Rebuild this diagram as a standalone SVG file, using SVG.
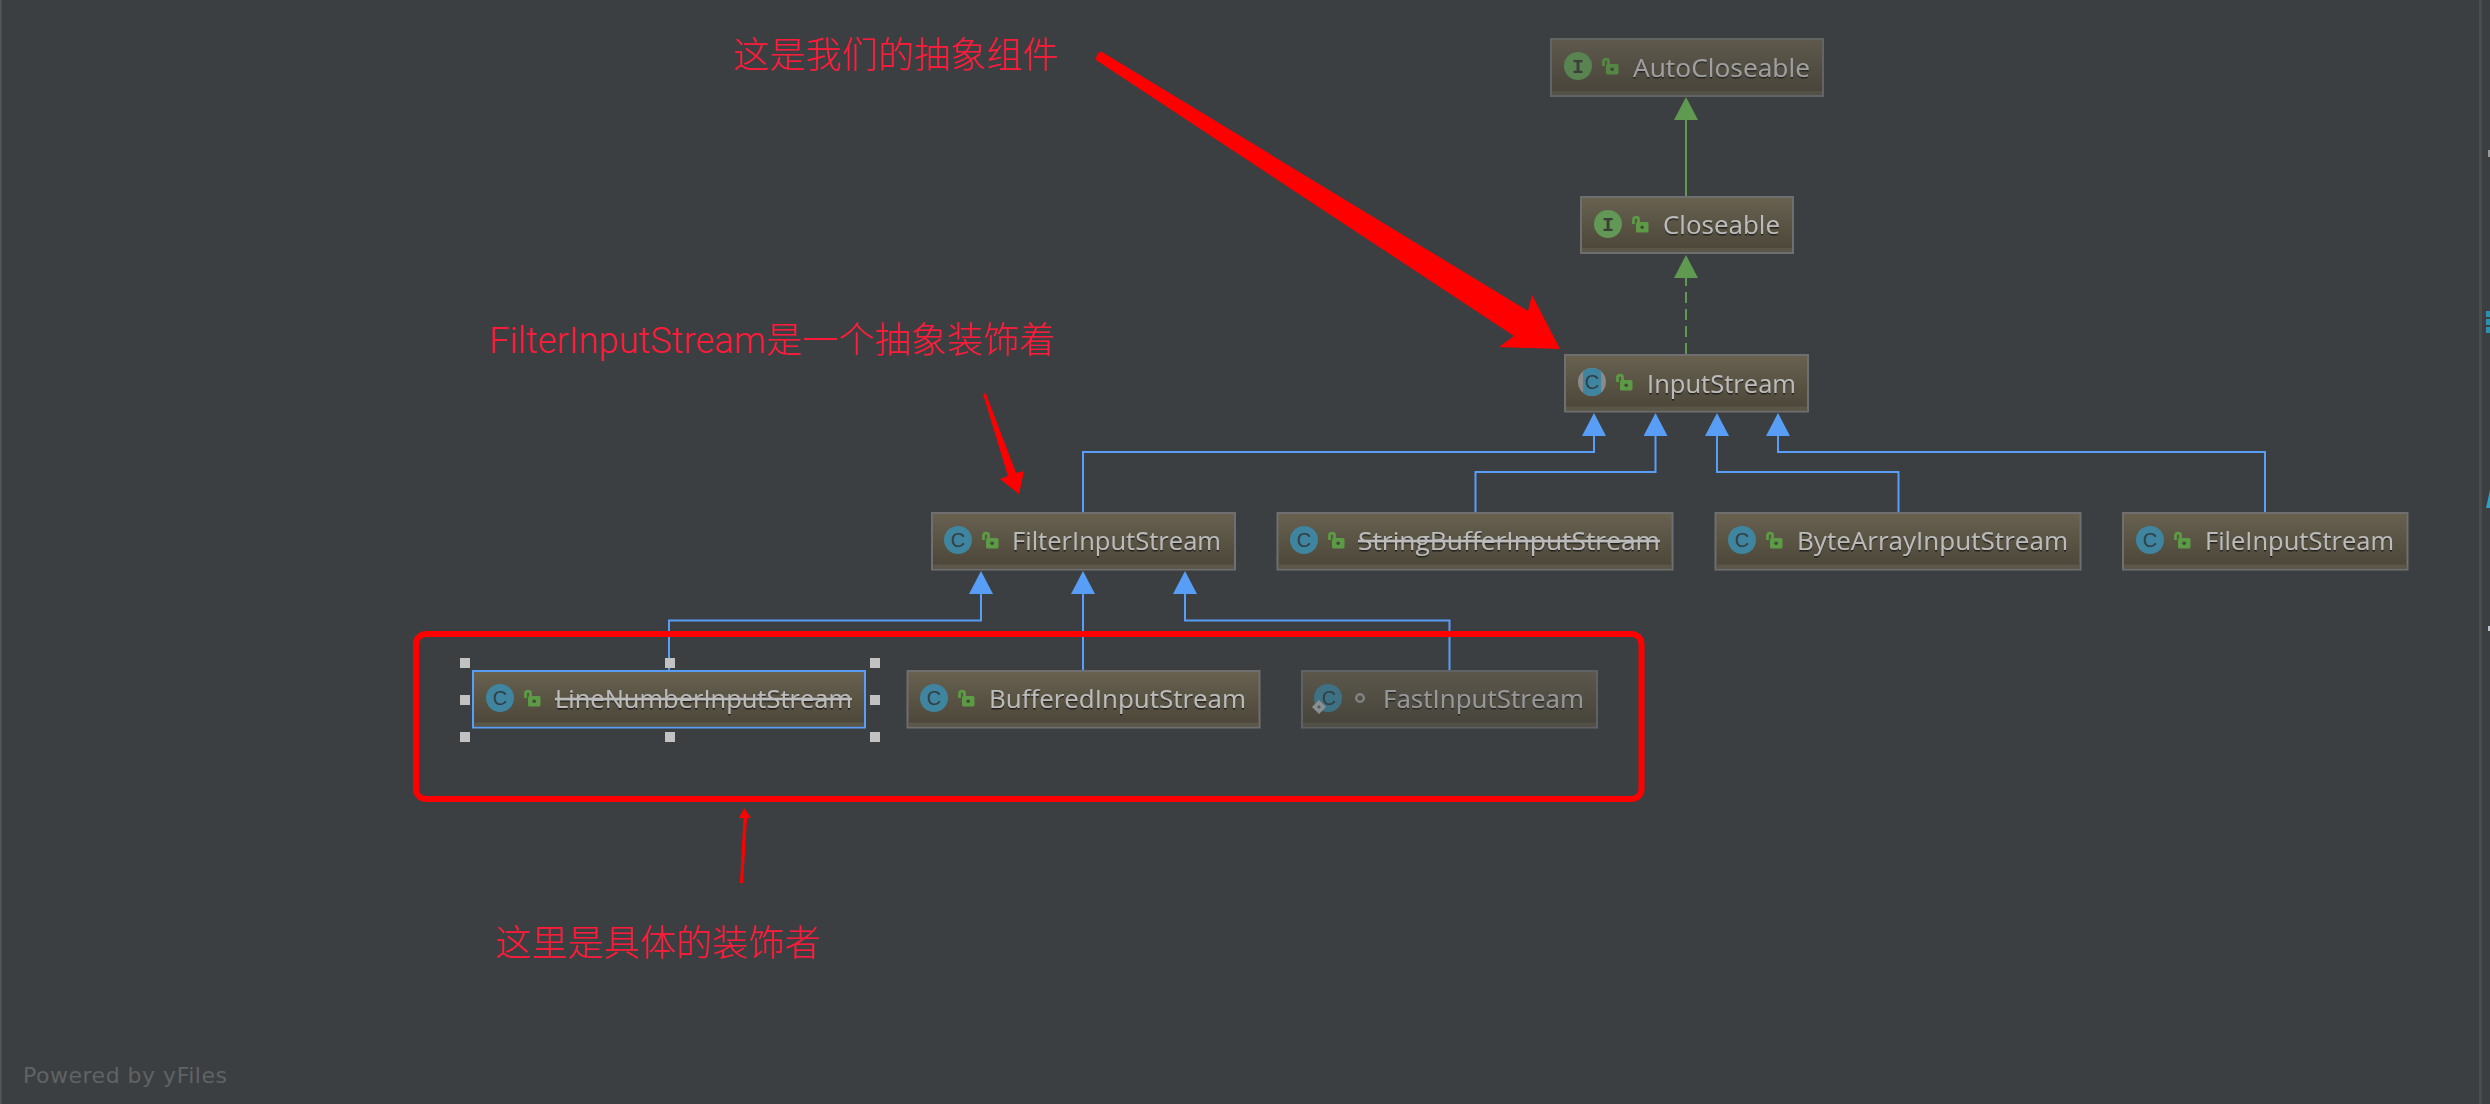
<svg xmlns="http://www.w3.org/2000/svg" width="2490" height="1104" viewBox="0 0 2490 1104">
<style>
.box{fill:url(#nodeFill);stroke:#6f6f6f;stroke-width:2}
.band{fill:#5a5648}
.lbl{font-family:"Open Sans","Liberation Sans",sans-serif;font-size:25px;fill:#bbbbbb;filter:url(#txtShadow)}
.strike{text-decoration:line-through}
.cc{fill:#40859f}
.ci{fill:#629755}
.glyph{font-family:"Liberation Sans",sans-serif;font-size:20px;fill:#2f3f46;text-anchor:middle}
.glyphI{font-family:"Liberation Mono",monospace;font-size:20px;font-weight:bold;fill:#3a3f38;text-anchor:middle}
.lock{fill:none;stroke:#5c9a45;stroke-width:2.8}
.lockb{fill:#5c9a45}
.lockh{fill:#45473a}
.eb{fill:none;stroke:#589df6;stroke-width:2}
.eg{fill:none;stroke:#5f9a50;stroke-width:2}
.handle{fill:#c2c2c2}
.note{font-family:"Roboto","Noto Sans CJK SC",sans-serif;font-weight:300;font-size:36px;letter-spacing:0.17px;fill:#ff1a3a}
</style>
<defs>
<linearGradient id="nodeFill" x1="0" y1="0" x2="0" y2="1"><stop offset="0" stop-color="#686150"/><stop offset="1" stop-color="#4a4538"/></linearGradient>
<filter id="txtShadow" x="-5%" y="-20%" width="110%" height="150%"><feDropShadow dx="0" dy="1.5" stdDeviation="0.6" flood-color="#000" flood-opacity="0.6"/></filter>
<marker id="arrB" viewBox="0 0 23 24" refX="0" refY="12" markerWidth="23" markerHeight="24" markerUnits="userSpaceOnUse" orient="auto"><path d="M0 0L23 12L0 24Z" fill="#589df6"/></marker>
<marker id="arrG" viewBox="0 0 23 24" refX="0" refY="12" markerWidth="23" markerHeight="24" markerUnits="userSpaceOnUse" orient="auto"><path d="M0 0L23 12L0 24Z" fill="#5f9a50"/></marker>
<g id="lockIcon"><path class="lock" d="M1.500 8V3C1.500 0.500 6.500 0.500 6.500 3V6"/><rect class="lockb" x="4" y="6" width="12.500" height="10.500" rx="1.500"/><circle class="lockh" cx="10.200" cy="11.200" r="1.800"/></g>
<clipPath id="absClip"><circle cx="1592" cy="382" r="14"/></clipPath>
</defs>
<rect id="background" width="2490" height="1104" fill="#3c3f41"/>
<rect x="0" width="1.500" height="1104" fill="#555759"/>
<rect x="2479" width="3" height="1104" fill="#4a4c4e"/>
<g id="edge-panel-fragments">
<rect x="2488" y="150" width="2" height="7" fill="#9a9a9a"/>
<rect x="2486" y="311" width="4" height="6" fill="#2f8fb0"/><rect x="2486" y="319" width="4" height="6" fill="#2f8fb0"/><rect x="2486" y="327" width="4" height="6" fill="#2f8fb0"/>
<path d="M2486 508L2490 490V508Z" fill="#2f9fc8"/>
<rect x="2488" y="626" width="2" height="5" fill="#b8c4cc"/>
</g>

<g id="connectors">
<path class="eg" d="M1686 197V120" marker-end="url(#arrG)"/>
<path class="eg" d="M1686 354V278" stroke-dasharray="11 6" marker-end="url(#arrG)"/>
<path class="eb" d="M1083 512V452H1594V436" marker-end="url(#arrB)"/>
<path class="eb" d="M1475.500 512V472H1655.500V436" marker-end="url(#arrB)"/>
<path class="eb" d="M1898.500 512V472H1717V436" marker-end="url(#arrB)"/>
<path class="eb" d="M2265 512V452H1778V436" marker-end="url(#arrB)"/>
<path class="eb" d="M669 670V620.500H981V594" marker-end="url(#arrB)"/>
<path class="eb" d="M1083 670V594" marker-end="url(#arrB)"/>
<path class="eb" d="M1449.500 670V620.500H1185V594" marker-end="url(#arrB)"/>
</g>

<g id="node-AutoCloseable" opacity="0.78">
<rect class="box" x="1551" y="39" width="272" height="57"/><rect class="band" x="1552" y="91" width="270" height="4"/>
<circle class="ci" cx="1578" cy="66" r="14"/><text class="glyphI" x="1578" y="73">I</text>
<use href="#lockIcon" x="1602" y="58"/>
<text class="lbl" x="1633" y="76.500" textLength="177" lengthAdjust="spacingAndGlyphs">AutoCloseable</text>
</g>
<g id="node-Closeable">
<rect class="box" x="1581" y="197" width="212" height="56"/><rect class="band" x="1582" y="248" width="210" height="4"/>
<circle class="ci" cx="1608" cy="224" r="14"/><text class="glyphI" x="1608" y="231">I</text>
<use href="#lockIcon" x="1632" y="216"/>
<text class="lbl" x="1663" y="233.500" textLength="117" lengthAdjust="spacingAndGlyphs">Closeable</text>
</g>
<g id="node-InputStream">
<rect class="box" x="1565" y="355" width="243" height="56.500"/><rect class="band" x="1566" y="406.500" width="241" height="4"/>
<circle cx="1592" cy="382" r="14" fill="#8a8a8a"/><rect class="cc" x="1583" y="366" width="18" height="32" clip-path="url(#absClip)"/><text class="glyph" x="1592" y="389">C</text>
<use href="#lockIcon" x="1616" y="374"/>
<text class="lbl" x="1647" y="392.500" textLength="149" lengthAdjust="spacingAndGlyphs">InputStream</text>
</g>
<g id="node-FilterInputStream">
<rect class="box" x="932" y="513" width="303" height="56.500"/><rect class="band" x="933" y="564.500" width="301" height="4"/>
<circle class="cc" cx="958" cy="540" r="14"/><text class="glyph" x="958" y="547">C</text>
<use href="#lockIcon" x="982" y="532"/>
<text class="lbl" x="1012" y="550" textLength="209" lengthAdjust="spacingAndGlyphs">FilterInputStream</text>
</g>
<g id="node-StringBufferInputStream">
<rect class="box" x="1277.500" y="513" width="395" height="56.500"/><rect class="band" x="1278.500" y="564.500" width="393" height="4"/>
<circle class="cc" cx="1304" cy="540" r="14"/><text class="glyph" x="1304" y="547">C</text>
<use href="#lockIcon" x="1328" y="532"/>
<text class="lbl strike" x="1358" y="550" textLength="302" lengthAdjust="spacingAndGlyphs">StringBufferInputStream</text>
</g>
<g id="node-ByteArrayInputStream">
<rect class="box" x="1715.500" y="513" width="365" height="56.500"/><rect class="band" x="1716.500" y="564.500" width="363" height="4"/>
<circle class="cc" cx="1742" cy="540" r="14"/><text class="glyph" x="1742" y="547">C</text>
<use href="#lockIcon" x="1766" y="532"/>
<text class="lbl" x="1797" y="550" textLength="271" lengthAdjust="spacingAndGlyphs">ByteArrayInputStream</text>
</g>
<g id="node-FileInputStream">
<rect class="box" x="2123" y="513" width="284.500" height="56.500"/><rect class="band" x="2124" y="564.500" width="282.500" height="4"/>
<circle class="cc" cx="2150" cy="540" r="14"/><text class="glyph" x="2150" y="547">C</text>
<use href="#lockIcon" x="2174" y="532"/>
<text class="lbl" x="2205" y="550" textLength="189" lengthAdjust="spacingAndGlyphs">FileInputStream</text>
</g>
<g id="node-LineNumberInputStream">
<rect class="box" x="473" y="671" width="392" height="56.500" style="stroke:#589df6"/><rect class="band" x="474" y="722.500" width="390" height="4"/>
<circle class="cc" cx="500" cy="698" r="14"/><text class="glyph" x="500" y="705">C</text>
<use href="#lockIcon" x="524" y="690"/>
<text class="lbl strike" x="555" y="708" textLength="297" lengthAdjust="spacingAndGlyphs">LineNumberInputStream</text>
</g>
<g id="node-BufferedInputStream">
<rect class="box" x="907.500" y="671" width="352" height="56.500"/><rect class="band" x="908.500" y="722.500" width="350" height="4"/>
<circle class="cc" cx="934" cy="698" r="14"/><text class="glyph" x="934" y="705">C</text>
<use href="#lockIcon" x="958" y="690"/>
<text class="lbl" x="989" y="708" textLength="257" lengthAdjust="spacingAndGlyphs">BufferedInputStream</text>
</g>
<g id="node-FastInputStream" opacity="0.72">
<rect class="box" x="1302" y="671" width="295" height="56.500"/><rect class="band" x="1303" y="722.500" width="293" height="4"/>
<circle class="cc" cx="1328" cy="698" r="14"/><text class="glyph" x="1329" y="705">C</text>
<path d="M1319 700L1326 707L1319 714L1312 707Z" fill="#a9b0b0"/><path d="M1319 705L1321 707L1319 709L1317 707Z" fill="#50707a"/>
<circle cx="1360" cy="698" r="3.800" fill="none" stroke="#9a9a9a" stroke-width="2.500"/>
<text class="lbl" x="1383" y="708" textLength="201" lengthAdjust="spacingAndGlyphs">FastInputStream</text>
</g>

<g id="selection-handles">
<rect class="handle" x="460" y="658" width="10" height="10"/><rect class="handle" x="665" y="658" width="10" height="10"/><rect class="handle" x="870" y="658" width="10" height="10"/>
<rect class="handle" x="460" y="695" width="10" height="10"/><rect class="handle" x="870" y="695" width="10" height="10"/>
<rect class="handle" x="460" y="732" width="10" height="10"/><rect class="handle" x="665" y="732" width="10" height="10"/><rect class="handle" x="870" y="732" width="10" height="10"/>
</g>

<g id="annotations">
<rect x="416" y="634" width="1225.500" height="165" rx="10" fill="none" stroke="#ff0000" stroke-width="6"/>
<path d="M1102 52C1099 51 1096 55 1096 60L1514 336L1499 347L1560 349L1532 295L1528 311Z" fill="#ff0000"/>
<path d="M983 394C984 393 985 393 986 394L1016 473L1024 471L1019 494L1000 479L1008 476Z" fill="#ff0000"/>
<path d="M740 883L743 883L747 818L751 818L744 808L739 818L743.500 818Z" fill="#ff0000"/>
<text class="note" x="733" y="67.500">这是我们的抽象组件</text>
<text class="note" x="489" y="353">FilterInputStream是一个抽象装饰着</text>
<text class="note" x="495" y="956">这里是具体的装饰者</text>
</g>
<text id="watermark" x="23" y="1083" textLength="204" font-family="DejaVu Sans, sans-serif" font-size="22" fill="#606364">Powered by yFiles</text>
</svg>
